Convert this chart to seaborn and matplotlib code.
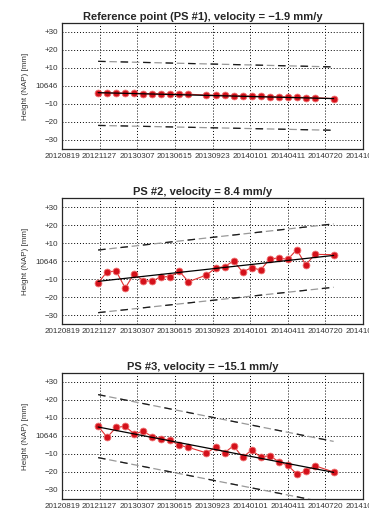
"""Height time series of three PS points with linear trend and band"""

import pandas as pd
import seaborn as sns
import numpy as np
import matplotlib.pyplot as plt
import matplotlib.dates as mdates


DATES = ['2012-11-23', '2012-12-17', '2013-01-10', '2013-02-03', '2013-02-27',
         '2013-03-23', '2013-04-16', '2013-05-10', '2013-06-03', '2013-06-27',
         '2013-07-21', '2013-09-07', '2013-10-01', '2013-10-25', '2013-11-18',
         '2013-12-12', '2014-01-05', '2014-01-29', '2014-02-22', '2014-03-18',
         '2014-04-11', '2014-05-05', '2014-05-29', '2014-06-22', '2014-08-11']

PS1 = [-3.7, -3.8, -3.9, -4.0, -4.1, -4.2, -4.3, -4.3, -4.4, -4.5, -4.6,
       -5.0, -5.1, -5.2, -5.3, -5.5, -5.6, -5.8, -5.9, -6.0, -6.1, -6.3,
       -6.4, -6.5, -7.0]
PS2 = [-12.2, -5.9, -5.7, -15.0, -7.0, -11.1, -11.1, -8.7, -8.7, -5.7, -11.5,
       -7.8, -3.9, -3.1, 0.0, -6.1, -3.7, -5.0, 1.1, 1.7, 0.9, 6.3, -2.2,
       3.7, 3.5]
PS3 = [5.4, -0.7, 4.8, 5.4, 1.1, 2.6, -0.4, -1.5, -2.4, -5.2, -6.3,
       -9.4, -6.3, -9.3, -5.4, -11.9, -7.8, -11.7, -10.9, -14.3, -16.3, -21.1,
       -19.6, -16.5, -20.0]

TITLES = ['Reference point (PS #1), velocity = \u22121.9 mm/y',
          'PS #2, velocity = 8.4 mm/y',
          'PS #3, velocity = \u221215.1 mm/y']

# trend and band lines: value at first and last date
TREND = [(-3.7, -7.0), (-11.3, 3.1), (5.0, -20.2)]
UPPER = [(13.7, 10.6), (6.1, 20.6), (23.0, -3.0)]
LOWER = [(-21.9, -24.6), (-28.7, -14.6), (-12.0, -37.8)]

YTICKS = [30, 20, 10, 0, -10, -20, -30]
YLABELS = ['+30', '+20', '+10', '10646', '\u221210', '\u221220', '\u221230']
XTICK_START = '2012-08-19'


def plot_ps(ax, values, title, trend, upper, lower):
    df = pd.DataFrame({'date': pd.to_datetime(DATES), 'height': values})
    ends = pd.to_datetime([DATES[0], DATES[-1]])

    for band in (upper, lower):
        sns.lineplot(x=ends, y=list(band), ax=ax, color='0.6',
                     linestyle=(0, (6, 3)), lw=0.9)
        sns.lineplot(x=ends, y=list(band), ax=ax, color='0.1',
                     linestyle=(0, (6, 12)), lw=0.9)

    sns.lineplot(data=df, x='date', y='height', ax=ax, estimator=None,
                 color='#e03030', lw=0.8, marker='o', markersize=4.9,
                 markerfacecolor='#d4111b', markeredgecolor='#f07070',
                 markeredgewidth=0.6, zorder=3)
    sns.lineplot(x=ends, y=list(trend), ax=ax, color='black', lw=0.9,
                 zorder=4)

    ticks = pd.date_range(XTICK_START, periods=9, freq='100D')
    ax.set_xlim(ticks[0], ticks[-1])
    ax.set_xticks(ticks)
    ax.xaxis.set_major_formatter(mdates.DateFormatter('%Y%m%d'))
    ax.set_ylim(-35, 35)
    ax.set_yticks(YTICKS)
    ax.set_yticklabels(YLABELS)

    ax.grid(True, color='black', linestyle=(0, (1, 2)), lw=0.7)
    ax.tick_params(direction='in', length=2.5, width=0.6, labelsize=5.8,
                   labelcolor='0.2', pad=3)
    ax.set_xlabel('')
    ax.set_ylabel('Height (NAP) [mm]', fontsize=5.8, color='0.2', labelpad=5)
    ax.set_title(title, fontsize=8.0, fontweight='bold', x=0.468, pad=2.5)
    for s in ax.spines.values():
        s.set_linewidth(0.9)
        s.set_color('0.15')


if __name__ == "__main__":

    sns.set_style("white")
    plt.rcParams['font.family'] = ['Liberation Sans', 'DejaVu Sans']

    fig = plt.figure(figsize=(3.69, 5.09), dpi=100)
    lefts = 62 / 369.
    width = 301 / 369.
    tops = [23, 198, 373]
    for i, series in enumerate([PS1, PS2, PS3]):
        bottom = 1 - (tops[i] + 126) / 509.
        ax = fig.add_axes([lefts, bottom, width, 126 / 509.])
        plot_ps(ax, series, TITLES[i], TREND[i], UPPER[i], LOWER[i])

    fig.savefig('out.png', dpi=100)
